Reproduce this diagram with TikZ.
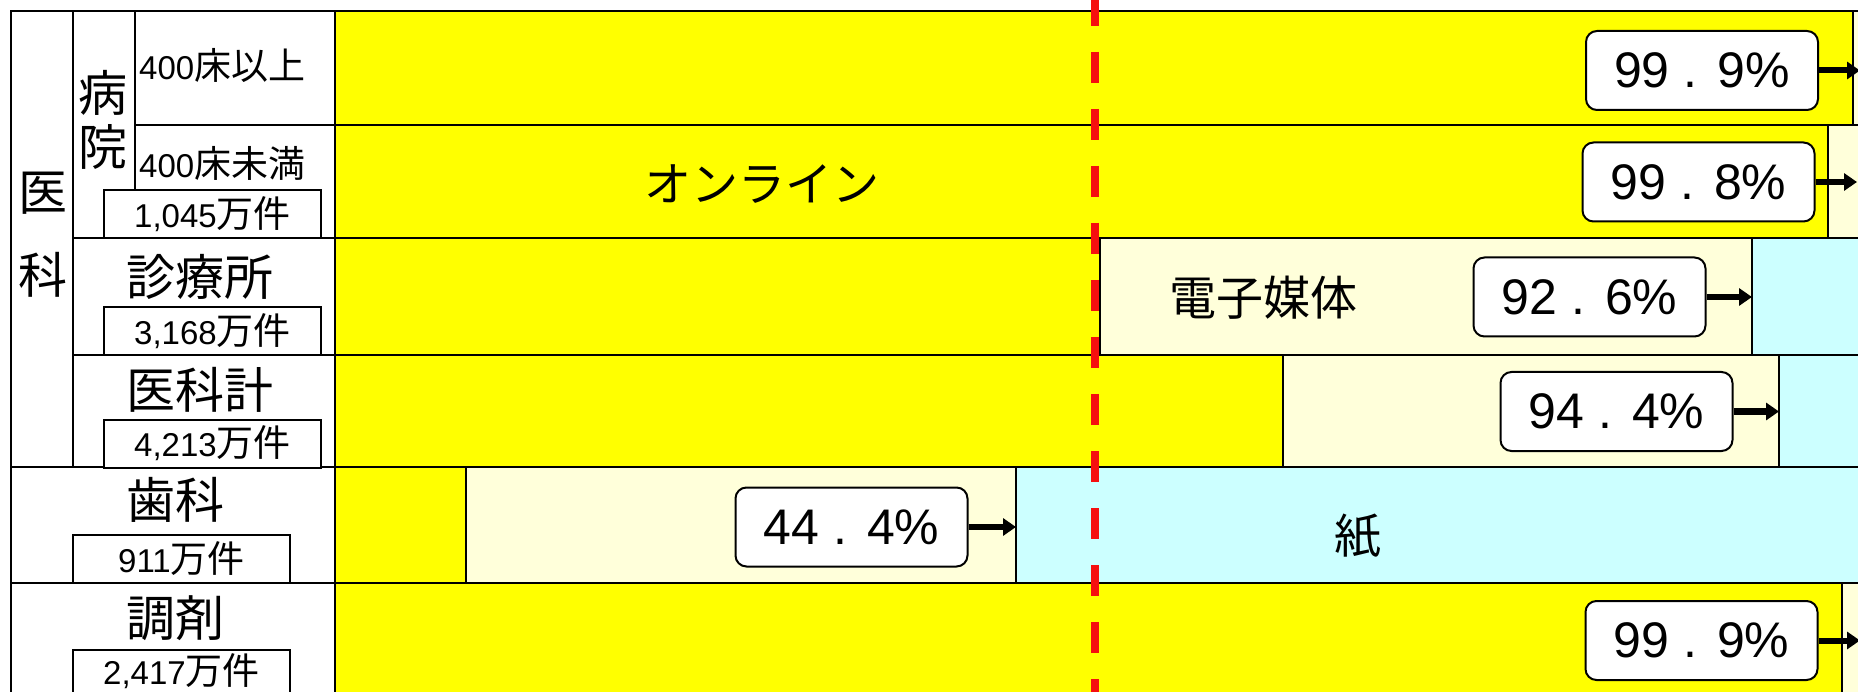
\documentclass[tikz,border=0pt]{standalone}
\usepackage{fontspec}
\setmainfont{Noto Sans CJK JP}
\newfontfamily\lat{Liberation Sans}
\usetikzlibrary{arrows.meta}
\definecolor{barY}{RGB}{255,255,0}
\definecolor{barB}{RGB}{255,255,218}
\definecolor{barC}{RGB}{204,255,255}
\definecolor{redline}{RGB}{245,15,15}
\newcommand{\dg}[1]{{\lat\fontsize{33}{33}\selectfont #1}}
\newcommand{\pc}[2]{{\lat #1\hspace{14pt}.\hspace{20pt}#2\%}}
\begin{document}
\begin{tikzpicture}[x=1pt,y=-1pt,
  tline/.style={line width=2pt},
  seg/.style={draw, line width=2pt},
  yseg/.style={seg, fill=barY},
  bseg/.style={seg, fill=barB},
  cseg/.style={seg, fill=barC},
  big/.style={font=\fontsize{49}{49}\selectfont, inner sep=0pt},
  barlab/.style={font=\fontsize{47}{47}\selectfont, inner sep=0pt},
  mid/.style={font=\fontsize{37}{37}\selectfont, inner sep=0pt},
  cnt/.style={draw, line width=2pt, fill=white, minimum width=217pt, minimum height=48pt, font=\fontsize{37}{37}\selectfont, inner sep=0pt},
  pct/.style={draw, line width=2pt, fill=white, rounded corners=11pt, minimum width=232pt, minimum height=79pt, font=\fontsize{50}{50}\selectfont, inner sep=0pt},
  arr/.style={line width=6pt, -{Triangle[length=13pt,width=17pt]}},
]
\useasboundingbox (0,0) rectangle (1858,692);
\clip (0,0) rectangle (1858,692);
\fill[white] (0,0) rectangle (1858,692);

% bars
\draw[yseg] (335,11) rectangle (1853,125);
\draw[bseg] (1853,11) rectangle (1870,125);
\draw[yseg] (335,125) rectangle (1828,238);
\draw[bseg] (1828,125) rectangle (1870,238);
\draw[yseg] (335,238) rectangle (1100,355);
\draw[bseg] (1100,238) rectangle (1752,355);
\draw[cseg] (1752,238) rectangle (1870,355);
\draw[yseg] (335,355) rectangle (1283,467);
\draw[bseg] (1283,355) rectangle (1779,467);
\draw[cseg] (1779,355) rectangle (1870,467);
\draw[yseg] (335,467) rectangle (466,583);
\draw[bseg] (466,467) rectangle (1016,583);
\draw[cseg] (1016,467) rectangle (1870,583);
\draw[yseg] (335,583) rectangle (1842,710);
\draw[bseg] (1842,583) rectangle (1870,710);

% bar labels
\node[barlab] (online) at (762,184) {オンライン};
\node[barlab] (denshi) at (1263,298) {電子媒体};
\node[barlab] (kami) at (1358,536) {紙};

% left table
\draw[tline] (11,710) -- (11,11) -- (335,11);
\draw[tline] (335,11) -- (335,710);
\draw[tline] (73,11) -- (73,467);
\draw[tline] (135,11) -- (135,191);
\draw[tline] (135,125) -- (335,125);
\draw[tline] (73,238) -- (335,238);
\draw[tline] (73,355) -- (335,355);
\draw[tline] (11,467) -- (335,467);
\draw[tline] (11,583) -- (335,583);

\node[big] (i1) at (43,193) {医};
\node[big] (i2) at (43,275) {科};
\node[big] (h1) at (103,93) {病};
\node[big] (h2) at (103,147) {院};
\node[mid, anchor=west] (b400a) at (139,65) {\dg{400}床以上};
\node[mid, anchor=west] (b400b) at (139,163) {\dg{400}床未満};
\node[cnt] (c1) at (212.5,214.5) {\dg{1,045}万件};
\node[big] (shin) at (200,277) {診療所};
\node[cnt] (c2) at (212.5,331) {\dg{3,168}万件};
\node[big] (ika) at (200,390) {医科計};
\node[cnt] (c3) at (212.5,443.5) {\dg{4,213}万件};
\node[big] (shika) at (175,500) {歯科};
\node[cnt] (c4) at (181.5,559) {\dg{911}万件};
\node[big] (chozai) at (175,618) {調剤};
\node[cnt, minimum height=52pt, text depth=0pt] (c5) at (181.5,676) {};
\node[inner sep=0pt, font=\fontsize{37}{37}\selectfont] (c5t) at (181.5,671) {\dg{2,417}万件};

% red dashed line
\coordinate (rtop) at (1095,0);
\coordinate (rbot) at (1095,692);
\draw[redline, line width=8pt, dash pattern=on 31pt off 26pt, dash phase=5pt] (rtop) -- (rbot);

% percentage boxes and arrows
\node[pct] (p1) at (1702,70.5) {\pc{99}{9}};
\coordinate (e1) at (1860,70.5);
\draw[arr] (p1.east) -- (e1);
\node[pct] (p2) at (1698.5,182) {\pc{99}{8}};
\coordinate (e2) at (1857,182);
\draw[arr] (p2.east) -- (e2);
\node[pct] (p3) at (1589.5,297) {\pc{92}{6}};
\coordinate (e3) at (1752,297);
\draw[arr] (p3.east) -- (e3);
\node[pct] (p4) at (1616.5,411.5) {\pc{94}{4}};
\coordinate (e4) at (1779,411.5);
\draw[arr] (p4.east) -- (e4);
\node[pct] (p5) at (851.5,527) {\pc{44}{4}};
\coordinate (e5) at (1016,527);
\draw[arr] (p5.east) -- (e5);
\node[pct] (p6) at (1701.5,640.5) {\pc{99}{9}};
\coordinate (e6) at (1860,640.5);
\draw[arr] (p6.east) -- (e6);
\end{tikzpicture}
\end{document}
